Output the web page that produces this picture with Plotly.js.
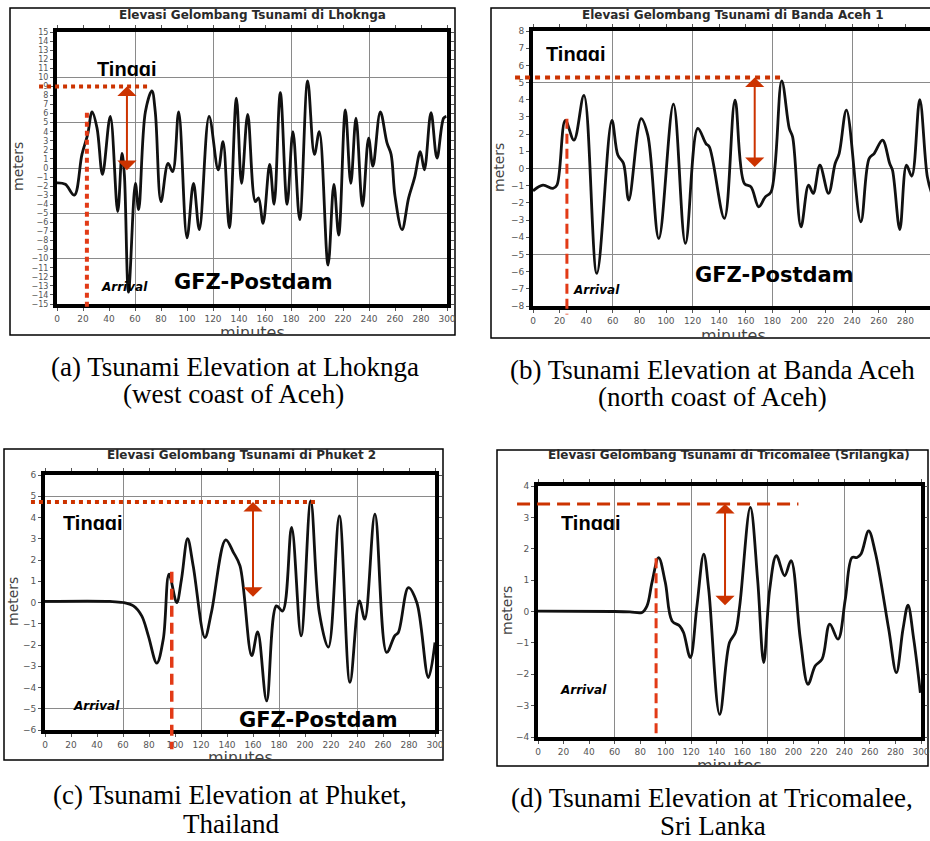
<!DOCTYPE html>
<html>
<head>
<meta charset="utf-8">
<script src="https://cdn.plot.ly/plotly-3.0.1.min.js"></script>
<style>html,body{margin:0;padding:0;background:#fff;}</style>
</head>
<body>
<div id="chart" style="width:930px;height:841px;"></div>
<script>
// ---------------- DATA ----------------
const lhokngaMin = [0, 6.4, 13.3, 19.2, 23.6, 27, 30.8, 35, 41, 46.7, 50, 51.8, 55, 60.3, 62.8, 68, 73, 75.6, 80, 85.4, 89, 93.6, 100, 105, 109.5, 117, 124, 127.7, 132.6, 138, 142, 146.7, 152.6, 155, 158.5, 163.6, 167, 171.8, 177, 181.5, 186.7, 192.8, 198, 201.8, 208.5, 213, 216.7, 221.8, 226, 230, 235, 239.7, 243, 248.7, 253.8, 257, 260, 265.4, 270.5, 275, 279.5, 282.6, 287.7, 292.3, 297.4, 299.5];
const lhokngaElev = [-1.65, -1.8, -3.0, 1.5, 3.7, 6.2, 4.4, -0.7, 5.7, -4.8, 1.6, -0.7, -13.7, -1.7, -4.6, 6.2, 8.5, 6.2, -3.7, 0.5, -0.4, 6.2, -7.7, -1.7, -6.8, 5.7, -0.2, 2.9, -6.6, 7.7, -1.7, 5.9, -3.7, -3.3, -6.1, 0.4, -4.0, 8.3, -4.0, 4.0, -5.7, 9.6, 1.5, 4.0, -10.7, -1.8, -7.4, 6.4, -1.7, 5.5, -4.2, 3.3, 0.2, 6.2, 2.8, 1.5, -3.1, -6.8, -3.3, -1.1, 1.8, -0.2, 6.1, 1.1, 5.5, 5.7];

const bandaMin = [0, 7.5, 15, 18, 24.3, 30.8, 38.3, 48, 59.3, 63.8, 68, 72, 81.3, 86.3, 94.6, 105.6, 114.6, 123.9, 130, 132.6, 143.9, 151.9, 158.9, 163.9, 169.7, 174.7, 179, 187, 192.7, 195.2, 201.5, 207.2, 210.7, 215.7, 222.2, 227.2, 230.2, 235.7, 246.5, 252.7, 256.5, 262.8, 268.2, 270.3, 275.8, 280.8, 284.8, 290.8, 296.5, 300];
const bandaElev = [-1.3, -0.97, -1.16, -0.97, 2.8, 1.65, 4.26, -6.1, 2.8, 0.78, 0.3, -1.84, 2.9, 1.94, -4.07, 3.74, -4.36, 2.33, 1.45, 1.26, -2.9, 3.97, -0.87, -1.07, -2.23, -1.65, -1.36, 5.1, 2.33, 1.84, -3.4, -0.97, -1.45, 0.19, -1.45, 0.29, 0.87, 3.4, -3.1, 0.58, 0.87, 1.65, 0.29, -0.1, -3.55, 0.19, -0.45, 4.0, -0.48, -1.5];

const phuketMin = [0, 50, 60, 68, 74.4, 79.5, 86, 91, 95.4, 101.3, 105, 109.7, 114, 123, 128, 139, 145, 150, 159, 163.6, 170.5, 178, 182.8, 189.7, 197, 204.4, 211, 218, 226.4, 234.6, 241.8, 246, 253.8, 262.8, 269, 271.8, 279.5, 286, 294.9, 300];
const phuketElev = [0.05, 0.05, 0.0, -0.16, -0.63, -1.57, -2.85, -1.72, 1.33, 0.0, 1.1, 3.0, 1.72, -1.65, -0.47, 2.95, 2.35, 1.72, -2.5, -1.38, -4.63, -0.16, -0.4, 3.53, -1.57, 4.78, -0.47, -2.1, 4.08, -3.76, 0.08, -0.78, 4.16, -2.35, -1.57, -1.41, 0.7, 0.0, -3.53, -1.88];

const tricoMin = [0, 59, 72, 81.5, 85.4, 89.3, 94.5, 99.7, 105, 111, 114, 119.3, 124.5, 129.8, 133.7, 142.3, 150, 154.6, 158, 166.3, 172, 176.8, 181.5, 186.7, 193.2, 198.2, 205.5, 211.5, 217.2, 222.5, 228.5, 235, 240.7, 246, 249.9, 253, 259, 264.2, 274.7, 280.7, 285.9, 289.8, 294.3, 299.5];
const tricoElev = [0.01, 0, -0.01, -0.03, 0.18, 0.93, 1.72, 0.93, -0.3, -0.46, -0.67, -1.47, 0.18, 1.83, 0.71, -3.28, -0.99, -0.67, 0.18, 3.32, 1.03, -1.63, 0.71, 1.78, 1.14, 1.62, -0.88, -2.32, -1.73, -1.52, -0.4, -0.88, 0.39, 1.72, 1.72, 1.83, 2.57, 1.88, -0.56, -1.95, -0.56, 0.2, -0.88, -2.59];

// annotation markers (minutes / meters)
const arrivalMin    = [23, 25.5, 97.5, 92.5];
const arrivalTop    = [6.1, 2.9, 1.45, 1.7];
const arrivalBottom = [-15.4, -8.5, -6.9, -3.9];
const peakLevel     = [9.0, 5.3, 4.73, 3.43];
const peakLineStart = [-13.8, -13.5, -10.8, -16.4];
const peakLineEnd   = [71.5, 187, 210, 204];
const arrowMin      = [53.8, 166.7, 160, 146.5];
const arrowBottom   = [-0.4, 0.0, 0.2, 0.15];

// texts
const panelTitles = [
  "Elevasi Gelombang Tsunami di Lhoknga",
  "Elevasi Gelombang Tsunami di Banda Aceh 1",
  "Elevasi Gelombang Tsunami di Phuket 2",
  "Elevasi Gelombang Tsunami di Tricomalee (Srilangka)"
];
const captionLine1 = [
  "(a) Tsunami Elevation at Lhoknga",
  "(b) Tsunami Elevation at Banda Aceh",
  "(c) Tsunami Elevation at Phuket,",
  "(d) Tsunami Elevation at Tricomalee,"
];
const captionLine2 = [
  "(west coast of Aceh)",
  "(north coast of Aceh)",
  "Thailand",
  "Sri Lanka"
];
const xTitle = "minutes";
const yTitle = "meters";
const peakLabel = "Tinggi";
const arrivalLabel = "Arrival";
const sourceLabel = "GFZ-Postdam";

// ---------------- LAYOUT (pixel geometry) ----------------
const W = 930, H = 841;
const PX = v => v / W;
const PY = v => 1 - v / H;

const series = [
  {min: lhokngaMin, elev: lhokngaElev},
  {min: bandaMin, elev: bandaElev},
  {min: phuketMin, elev: phuketElev},
  {min: tricoMin, elev: tricoElev}
];

const geom = [
  {plotX:[57,447], plotY:[32,304], xRange:[0,300], yRange:[-15,15], yTick:8,
   frame:[10,8,455,335], title:[252,15], meters:[18,167], minutes:252, minClip:12,
   tinggi:[127.5,62], arrival:[125,287.5], gfz:[253,282,false],
   cap1:[235,367], cap2:[234,394],
   hDash:{w:4, d:"4px,4px"}, vDash:{w:4, d:"5px,4px"}},
  {plotX:[533,930], plotY:[31,306], xRange:[0,298.5], yRange:[-8,8], yTick:9,
   frame:[491,8,935,338], title:[733,15], meters:[499,167], minutes:733, minClip:12,
   tinggi:[576,47], arrival:[596.5,290], gfz:[774,275,false],
   cap1:[712,370], cap2:[712,397],
   hDash:{w:4, d:"5px,5px"}, vDash:{w:3, d:"10px,5px"}},
  {plotX:[45,435], plotY:[475,730], xRange:[0,300], yRange:[-6,6], yTick:9,
   frame:[4,449,443,760], title:[241,455], meters:[13,602], minutes:240, minClip:12,
   tinggi:[92.5,516], arrival:[96,706], gfz:[318.5,712,true],
   cap1:[230,795], cap2:[231,824],
   hDash:{w:4, d:"4px,4px"}, vDash:{w:3.5, d:"11px,6px"}},
  {plotX:[538,921], plotY:[486,737], xRange:[0,300], yRange:[-4,4], yTick:9,
   frame:[497,450,928,766], title:[729,455], meters:[507,611], minutes:729, minClip:10.5,
   tinggi:[591,516], arrival:[583.5,690], gfz:null,
   cap1:[712,798], cap2:[713,826],
   hDash:{w:3, d:"13px,7px"}, vDash:{w:3, d:"10px,5px"}}
];

const RED = '#cc3300';
const RED2 = '#e23a16';

const traces = [];
const layout = {
  width: W, height: H,
  margin: {l:0, r:0, t:0, b:0},
  paper_bgcolor: '#ffffff',
  plot_bgcolor: '#ffffff',
  showlegend: false,
  font: {family: 'DejaVu Sans', color: '#333'},
  annotations: [],
  shapes: []
};

function axId(n){ return n === 1 ? '' : String(n); }

geom.forEach((g, i) => {
  const n = i + 1, m = i + 5;
  const xDom = [PX(g.plotX[0]), Math.min(1, PX(g.plotX[1]))];
  const yDom = [PY(g.plotY[1]), PY(g.plotY[0])];
  // grid axes (base)
  layout['xaxis' + axId(n)] = {
    domain: xDom, range: g.xRange, anchor: 'y' + axId(n),
    showgrid: true, gridcolor: '#8a8a8a', gridwidth: 1, tick0: 0, dtick: 60,
    showticklabels: false, ticks: '', zeroline: false, showline: false, fixedrange: true
  };
  layout['yaxis' + axId(n)] = {
    domain: yDom, range: g.yRange, anchor: 'x' + axId(n),
    showgrid: true, gridcolor: '#8a8a8a', gridwidth: 1, tick0: 0, dtick: 5,
    showticklabels: false, ticks: '', zeroline: false, showline: false, fixedrange: true
  };
  // labelled axes (overlay) carrying the curve and the heavy frame
  layout['xaxis' + m] = {
    overlaying: 'x' + axId(n), range: g.xRange, anchor: 'y' + m,
    showgrid: false, zeroline: false, showline: true, linewidth: 4, linecolor: '#000',
    mirror: 'ticks', ticks: 'outside', ticklen: 3, tickwidth: 1, tickcolor: '#555',
    tick0: 0, dtick: 20, tickfont: {family: 'DejaVu Sans', size: 9, color: '#555'}, fixedrange: true
  };
  layout['yaxis' + m] = {
    overlaying: 'y' + axId(n), range: g.yRange, anchor: 'x' + m,
    showgrid: false, zeroline: false, showline: true, linewidth: 4, linecolor: '#000',
    mirror: 'ticks', ticks: 'outside', ticklen: 3, tickwidth: 1, tickcolor: '#555',
    tick0: 0, dtick: 1, tickfont: {family: 'DejaVu Sans', size: g.yTick, color: '#555'}, fixedrange: true
  };

  traces.push({x: [], y: [], type: 'scatter', mode: 'lines', xaxis: 'x' + axId(n), yaxis: 'y' + axId(n), hoverinfo: 'skip'});
  traces.push({
    x: series[i].min, y: series[i].elev, type: 'scatter', mode: 'lines',
    xaxis: 'x' + m, yaxis: 'y' + m,
    line: {color: '#111', width: 2.8, shape: 'spline', smoothing: 1},
    hoverinfo: 'skip'
  });

  // outer frame
  layout.shapes.push({type: 'rect', xref: 'paper', yref: 'paper',
    x0: PX(g.frame[0]), x1: PX(g.frame[2]), y0: PY(g.frame[3]), y1: PY(g.frame[1]),
    line: {color: '#000', width: 1.5}, fillcolor: 'rgba(0,0,0,0)', layer: 'below'});

  const A = layout.annotations;
  // panel title
  A.push({xref:'paper', yref:'paper', x: PX(g.title[0]), y: PY(g.title[1]), xanchor:'center', yanchor:'middle',
    text: panelTitles[i], showarrow:false, font:{family:'DejaVu Sans', size:12, color:'#2a2a2a', weight:'bold'}});
  // axis titles
  A.push({xref:'paper', yref:'paper', x: PX(g.meters[0]), y: PY(g.meters[1]), xanchor:'center', yanchor:'middle',
    text: yTitle, textangle: -90, showarrow:false, font:{family:'DejaVu Sans', size:14, color:'#444'}});
  A.push({xref:'paper', yref:'paper', x: PX(g.minutes), y: PY(g.frame[3] - g.minClip), xanchor:'center', yanchor:'top',
    text: xTitle, showarrow:false, height: g.minClip - 0.5, valign:'top', borderpad:0, borderwidth:0,
    font:{family:'DejaVu Sans', size:16, color:'#444'}});
  // Tinggi (cut at baseline)
  A.push({xref:'paper', yref:'paper', x: PX(g.tinggi[0]), y: PY(g.tinggi[1] - 4), xanchor:'center', yanchor:'top',
    text: peakLabel, showarrow:false, height: 18, valign:'top', borderpad:0, borderwidth:0,
    font:{family:'Liberation Sans', size:20, color:'#000', weight:'bold'}});
  // Arrival
  A.push({xref:'paper', yref:'paper', x: PX(g.arrival[0]), y: PY(g.arrival[1]), xanchor:'center', yanchor:'middle',
    text: arrivalLabel, showarrow:false,
    font:{family:'DejaVu Sans', size:12, color:'#000', weight:'bold', style:'italic'}});
  // GFZ-Postdam
  if (g.gfz) {
    if (g.gfz[2]) {
      A.push({xref:'paper', yref:'paper', x: PX(g.gfz[0]), y: PY(g.gfz[1] - 4), xanchor:'center', yanchor:'top',
        text: sourceLabel, showarrow:false, height: g.plotY[1] - (g.gfz[1] - 4), valign:'top', borderpad:0, borderwidth:0,
        font:{family:'DejaVu Sans', size:21, color:'#000', weight:'bold'}});
    } else {
      A.push({xref:'paper', yref:'paper', x: PX(g.gfz[0]), y: PY(g.gfz[1]), xanchor:'center', yanchor:'middle',
        text: sourceLabel, showarrow:false,
        font:{family:'DejaVu Sans', size:21, color:'#000', weight:'bold'}});
    }
  }
  // captions
  A.push({xref:'paper', yref:'paper', x: PX(g.cap1[0]), y: PY(g.cap1[1]), xanchor:'center', yanchor:'middle',
    text: captionLine1[i], showarrow:false, font:{family:'Liberation Serif', size:27, color:'#000'}});
  A.push({xref:'paper', yref:'paper', x: PX(g.cap2[0]), y: PY(g.cap2[1]), xanchor:'center', yanchor:'middle',
    text: captionLine2[i], showarrow:false, font:{family:'Liberation Serif', size:27, color:'#000'}});
  // double-headed arrow (data coordinates)
  A.push({xref:'x' + axId(n), yref:'y' + axId(n), axref:'x' + axId(n), ayref:'y' + axId(n),
    x: arrowMin[i], y: peakLevel[i], ax: arrowMin[i], ay: arrowBottom[i],
    text:'', showarrow:true, arrowside:'end+start', arrowhead:1, startarrowhead:1,
    arrowsize:1.6, startarrowsize:1.6, arrowwidth:2, arrowcolor: RED, standoff:0, startstandoff:0});
});

const gd = document.getElementById('chart');
Plotly.newPlot(gd, traces, layout, {staticPlot: true}).then(function () {
  const fl = gd._fullLayout;
  const shapes = layout.shapes.slice();
  geom.forEach((g, i) => {
    const n = i + 1;
    const xa = fl['xaxis' + axId(n)];
    const ya = fl['yaxis' + axId(n)];
    const toX = v => (xa._offset + xa.l2p(v)) / fl.width;
    const toY = v => 1 - (ya._offset + ya.l2p(v)) / fl.height;
    shapes.push({type:'line', xref:'paper', yref:'paper', layer:'above',
      x0: toX(peakLineStart[i]), x1: toX(peakLineEnd[i]), y0: toY(peakLevel[i]), y1: toY(peakLevel[i]),
      line:{color: RED, width: g.hDash.w, dash: g.hDash.d}});
    shapes.push({type:'line', xref:'paper', yref:'paper', layer:'above',
      x0: toX(arrivalMin[i]), x1: toX(arrivalMin[i]), y0: toY(arrivalTop[i]), y1: toY(arrivalBottom[i]),
      line:{color: RED2, width: g.vDash.w, dash: g.vDash.d}});
  });
  return Plotly.relayout(gd, {shapes: shapes});
});
</script>
</body>
</html>
